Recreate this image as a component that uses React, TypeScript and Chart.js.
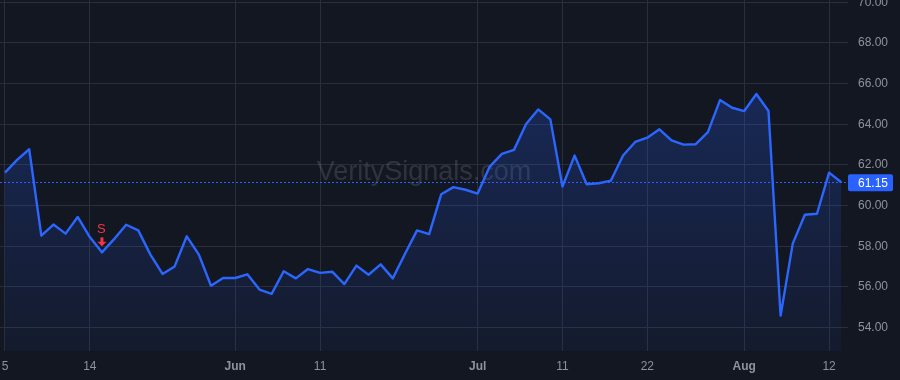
import React, { useEffect, useRef } from "react";
import { Chart, registerables } from "chart.js";

Chart.register(...registerables);

// Trading days, 2025-05-05 .. 2025-08-13
const dates = [
  "2025-05-05", "2025-05-06", "2025-05-07", "2025-05-08", "2025-05-09",
  "2025-05-12", "2025-05-13", "2025-05-14", "2025-05-15", "2025-05-16",
  "2025-05-19", "2025-05-20", "2025-05-21", "2025-05-22", "2025-05-23",
  "2025-05-27", "2025-05-28", "2025-05-29", "2025-05-30",
  "2025-06-02", "2025-06-03", "2025-06-04", "2025-06-05", "2025-06-06",
  "2025-06-09", "2025-06-10", "2025-06-11", "2025-06-12", "2025-06-13",
  "2025-06-16", "2025-06-17", "2025-06-18", "2025-06-20",
  "2025-06-23", "2025-06-24", "2025-06-25", "2025-06-26", "2025-06-27", "2025-06-30",
  "2025-07-01", "2025-07-02", "2025-07-03", "2025-07-07", "2025-07-08",
  "2025-07-09", "2025-07-10", "2025-07-11", "2025-07-14", "2025-07-15",
  "2025-07-16", "2025-07-17", "2025-07-18", "2025-07-21", "2025-07-22",
  "2025-07-23", "2025-07-24", "2025-07-25", "2025-07-28", "2025-07-29",
  "2025-07-30", "2025-07-31",
  "2025-08-01", "2025-08-04", "2025-08-05", "2025-08-06", "2025-08-07",
  "2025-08-08", "2025-08-11", "2025-08-12", "2025-08-13",
];

const values = [
  61.62, 62.25, 62.77, 58.52, 59.07, 58.62, 59.44, 58.45, 57.7, 58.35,
  59.06, 58.78, 57.59, 56.64, 57.01, 58.49, 57.59, 56.06, 56.44,
  56.44, 56.62, 55.87, 55.66, 56.77, 56.42, 56.88, 56.69, 56.75, 56.14,
  57.05, 56.6, 57.11, 56.42, 57.62, 58.78, 58.6, 60.56, 60.91, 60.78,
  60.59, 61.92, 62.54, 62.74, 64.01, 64.73, 64.24, 60.94, 62.46, 61.05,
  61.1, 61.23, 62.46, 63.13, 63.34, 63.75, 63.21, 63.0, 63.02, 63.61,
  65.19, 64.81,
  64.65, 65.49, 64.65, 54.59, 58.13, 59.55, 59.6, 61.62, 61.15,
];

const xTickIndices = [0, 7, 19, 26, 39, 46, 53, 61, 68];
const xTickLabels = ["5", "14", "Jun", "11", "Jul", "11", "22", "Aug", "12"];
const monthLabels = ["Jun", "Jul", "Aug"];
const yTicks = [54, 56, 58, 60, 62, 64, 66, 68, 70];

const lastPrice = 61.15;
const signalIndex = 8;
const signalLabel = "S";
const watermark = "VeritySignals.com";

const FONT = '"Liberation Sans", Arial, sans-serif';
const BG = "#131722";
const GRID = "#2a2e3a";
const TEXT = "#8f929a";
const BLUE = "#2962ff";
const LINE = "#2b66ff";
const RED = "#f23645";

const bgPlugin = {
  id: "bg",
  beforeDraw(chart: any) {
    const { ctx, width, height } = chart;
    ctx.save();
    ctx.fillStyle = BG;
    ctx.fillRect(0, 0, width, height);
    ctx.restore();
  },
};

const watermarkPlugin = {
  id: "wm",
  beforeDatasetsDraw(chart: any) {
    const { ctx, chartArea: a } = chart;
    ctx.save();
    ctx.font = `27px ${FONT}`;
    ctx.fillStyle = "rgba(255,255,255,0.12)";
    ctx.textAlign = "center";
    ctx.textBaseline = "alphabetic";
    ctx.fillText(watermark, (a.left + a.right) / 2, (a.top + a.bottom) / 2 + 4.5);
    ctx.restore();
  },
};

const overlayPlugin = {
  id: "overlay",
  afterDatasetsDraw(chart: any) {
    const { ctx, chartArea: a, scales } = chart;
    const yS = scales.y;
    const xS = scales.x;
    const py = yS.getPixelForValue(lastPrice);
    ctx.save();
    ctx.strokeStyle = BLUE;
    ctx.lineWidth = 1;
    ctx.setLineDash([2, 2]);
    ctx.beginPath();
    ctx.moveTo(a.left, Math.round(py) + 0.5);
    ctx.lineTo(a.right, Math.round(py) + 0.5);
    ctx.stroke();
    ctx.restore();

    const sx = xS.getPixelForValue(signalIndex);
    const sy = yS.getPixelForValue(values[signalIndex]);
    ctx.save();
    ctx.fillStyle = RED;
    ctx.beginPath();
    ctx.rect(sx - 1.5, sy - 15, 3, 5);
    ctx.fill();
    ctx.beginPath();
    ctx.moveTo(sx - 4.5, sy - 10.5);
    ctx.lineTo(sx + 4.5, sy - 10.5);
    ctx.lineTo(sx, sy - 6);
    ctx.closePath();
    ctx.fill();
    ctx.font = `13px ${FONT}`;
    ctx.textAlign = "center";
    ctx.textBaseline = "middle";
    ctx.fillText(signalLabel, sx - 0.5, sy - 22.5);
    ctx.restore();
  },
  afterDraw(chart: any) {
    const { ctx, chartArea: a, scales } = chart;
    const py = scales.y.getPixelForValue(lastPrice);
    ctx.save();
    ctx.fillStyle = BLUE;
    const bx = a.right;
    const bw = 45;
    const bh = 17;
    ctx.beginPath();
    (ctx as any).roundRect(bx, py - bh / 2 + 0.5, bw, bh, 2);
    ctx.fill();
    ctx.fillStyle = "#ffffff";
    ctx.font = `12px ${FONT}`;
    ctx.textAlign = "left";
    ctx.textBaseline = "middle";
    ctx.fillText(lastPrice.toFixed(2), bx + 10, py + 1);
    ctx.restore();
  },
};

export default function App() {
  const ref = useRef<HTMLCanvasElement | null>(null);

  useEffect(() => {
    document.body.style.margin = "0";
    document.body.style.background = BG;
    const canvas = ref.current;
    if (!canvas) return;
    const chart = new Chart(canvas, {
      type: "line",
      data: {
        datasets: [
          {
            label: "Price",
            data: values.map((v, i) => ({ x: i, y: v })),
            borderColor: LINE,
            borderWidth: 2.4,
            borderJoinStyle: "round",
            pointRadius: 0,
            tension: 0,
            fill: "start",
            backgroundColor: (c: any) => {
              const chart = c.chart;
              const a = chart.chartArea;
              if (!a) return "rgba(41,98,255,0.15)";
              const g = chart.ctx.createLinearGradient(0, a.top, 0, a.bottom);
              g.addColorStop(0, "rgba(41,98,255,0.3)");
              g.addColorStop(1, "rgba(41,98,255,0.05)");
              return g;
            },
          },
        ],
      },
      options: {
        animation: false,
        responsive: false,
        devicePixelRatio: 1,
        layout: { padding: 0 },
        plugins: {
          legend: { display: false },
          tooltip: { enabled: false },
        },
        scales: {
          x: {
            type: "linear",
            min: -0.41,
            max: 69.56,
            border: { display: false },
            grid: { color: GRID, drawTicks: false },
            ticks: {
              padding: 8,
              color: TEXT,
              maxRotation: 0,
              autoSkip: false,
              font: (c: any) => {
                const k = c.tick ? xTickIndices.indexOf(c.tick.value) : -1;
                const bold = k >= 0 && monthLabels.includes(xTickLabels[k]);
                return { family: FONT, size: 12, weight: bold ? "bold" : "normal" };
              },
              callback: (v: any) => {
                const k = xTickIndices.indexOf(Number(v));
                return k >= 0 ? xTickLabels[k] : "";
              },
            },
            afterBuildTicks: (s: any) => {
              s.ticks = xTickIndices.map((v) => ({ value: v }));
            },
            afterFit: (s: any) => {
              s.height = 29;
              s.paddingLeft = 0;
              s.paddingRight = 0;
            },
          },
          y: {
            type: "linear",
            position: "right",
            min: 52.85,
            max: 70.11,
            border: { display: false },
            grid: { color: GRID, drawTicks: false },
            ticks: {
              padding: 10,
              color: TEXT,
              font: { family: FONT, size: 12 },
              callback: (v: any) => Number(v).toFixed(2),
            },
            afterBuildTicks: (s: any) => {
              s.ticks = yTicks.map((v) => ({ value: v }));
            },
            afterFit: (s: any) => {
              s.width = 52;
              s.paddingTop = 0;
              s.paddingBottom = 0;
            },
          },
        },
      } as any,
      plugins: [bgPlugin, watermarkPlugin, overlayPlugin],
    });
    return () => chart.destroy();
  }, []);

  return (
    <div style={{ width: 900, height: 380, background: BG }}>
      <canvas ref={ref} width={900} height={380} style={{ display: "block" }} />
    </div>
  );
}
